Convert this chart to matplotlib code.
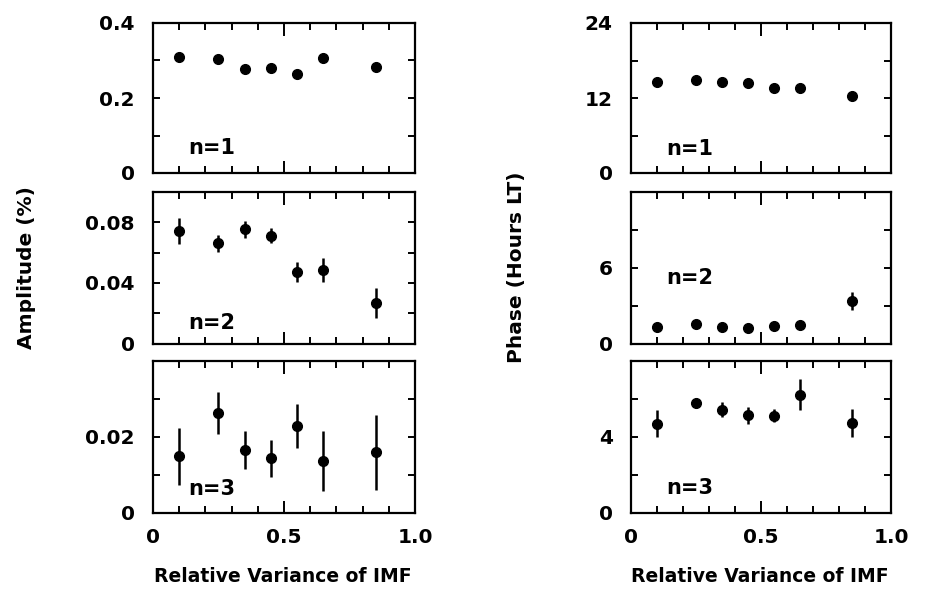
import matplotlib
matplotlib.use("Agg")
import matplotlib.pyplot as plt
from matplotlib.ticker import MultipleLocator

plt.rcParams['font.family'] = ['DejaVu Sans']
plt.rcParams['font.weight'] = 'bold'

# Relative variance of IMF (x positions)
x = [0.10, 0.25, 0.35, 0.45, 0.55, 0.65, 0.85]

# Amplitude (%)
amp1 = [0.310, 0.303, 0.277, 0.279, 0.263, 0.307, 0.282]
amp1_err = [0, 0, 0, 0, 0, 0, 0]
amp2 = [0.0743, 0.0662, 0.0754, 0.0712, 0.0470, 0.0486, 0.0266]
amp2_err = [0.0085, 0.0055, 0.0055, 0.0050, 0.0065, 0.0080, 0.0100]
amp3 = [0.0149, 0.0263, 0.0165, 0.0143, 0.0228, 0.0136, 0.0159]
amp3_err = [0.0075, 0.0055, 0.0050, 0.0048, 0.0058, 0.0080, 0.0098]

# Phase (hours LT)
ph1 = [14.5, 14.88, 14.6, 14.45, 13.6, 13.55, 12.3]
ph1_err = [0, 0, 0, 0, 0, 0, 0]
ph2 = [1.34, 1.53, 1.34, 1.26, 1.40, 1.45, 3.37]
ph2_err = [0, 0, 0, 0, 0, 0, 0.70]
ph3 = [4.70, 5.79, 5.44, 5.14, 5.12, 6.23, 4.74]
ph3_err = [0.72, 0.28, 0.38, 0.44, 0.35, 0.80, 0.75]

harmonic_labels = ['n=1', 'n=2', 'n=3']

# panel specs: (ylim top, minor step, major ticks, major labels, label y)
left_specs = [
    (0.4, 0.1, [0, 0.2, 0.4], ['0', '0.2', '0.4'], 0.067),
    (0.1, 0.02, [0, 0.04, 0.08], ['0', '0.04', '0.08'], 0.0135),
    (0.04, 0.01, [0, 0.02], ['0', '0.02'], 0.0062),
]
right_specs = [
    (24, 6, [0, 12, 24], ['0', '12', '24'], 3.9),
    (12, 3, [0, 6], ['0', '6'], 5.16),
    (8, 2, [0, 4], ['0', '4'], 1.32),
]
left_data = [(amp1, amp1_err), (amp2, amp2_err), (amp3, amp3_err)]
right_data = [(ph1, ph1_err), (ph2, ph2_err), (ph3, ph3_err)]

fig = plt.figure(figsize=(9.28, 5.92), dpi=100)
W, H = 928.0, 592.0
rows_px = [(23, 173), (192, 343.6), (361, 512.7)]
cols_px = [(153, 415), (630.7, 891)]

def make_axes(col, row):
    x0, x1 = cols_px[col]
    y0, y1 = rows_px[row]
    return fig.add_axes([x0 / W, 1 - y1 / H, (x1 - x0) / W, (y1 - y0) / H])

for col, (specs, data) in enumerate([(left_specs, left_data), (right_specs, right_data)]):
    for row in range(3):
        ax = make_axes(col, row)
        top, step, majors, mlabels, ly = specs[row]
        yv, ye = data[row]
        ax.errorbar(x, yv, yerr=ye, fmt='o', color='black', ms=7,
                    elinewidth=1.8, capsize=0)
        ax.set_xlim(0, 1.0)
        ax.set_ylim(0, top)
        ax.xaxis.set_major_locator(MultipleLocator(0.5))
        ax.xaxis.set_minor_locator(MultipleLocator(0.1))
        ax.set_yticks(majors)
        ax.set_yticklabels(mlabels)
        ax.yaxis.set_minor_locator(MultipleLocator(step))
        ax.tick_params(axis='both', which='both', direction='in',
                       top=True, right=True, width=1.4, labelsize=14.5)
        ax.tick_params(axis='x', which='major', length=9, pad=11)
        ax.tick_params(axis='x', which='minor', length=5)
        ax.tick_params(axis='y', which='both', length=5, pad=13)
        if row == 2:
            ax.set_xticks([0, 0.5, 1.0])
            ax.set_xticklabels(['0', '0.5', '1.0'])
        else:
            ax.set_xticklabels([])
        for sp in ax.spines.values():
            sp.set_linewidth(1.6)
        ax.text(0.135, ly, harmonic_labels[row], fontsize=15,
                fontweight='bold', ha='left', va='center')

fig.text(27 / W, 1 - 268 / H, 'Amplitude (%)', rotation=90, fontsize=14.5,
         fontweight='bold', ha='center', va='center')
fig.text(517 / W, 1 - 267 / H, 'Phase (Hours LT)', rotation=90, fontsize=14.5,
         fontweight='bold', ha='center', va='center')
fig.text(283 / W, 1 - 577 / H, 'Relative Variance of IMF', fontsize=13.5,
         fontweight='bold', ha='center', va='center')
fig.text(760 / W, 1 - 577 / H, 'Relative Variance of IMF', fontsize=13.5,
         fontweight='bold', ha='center', va='center')

fig.savefig('out.png', dpi=100)
